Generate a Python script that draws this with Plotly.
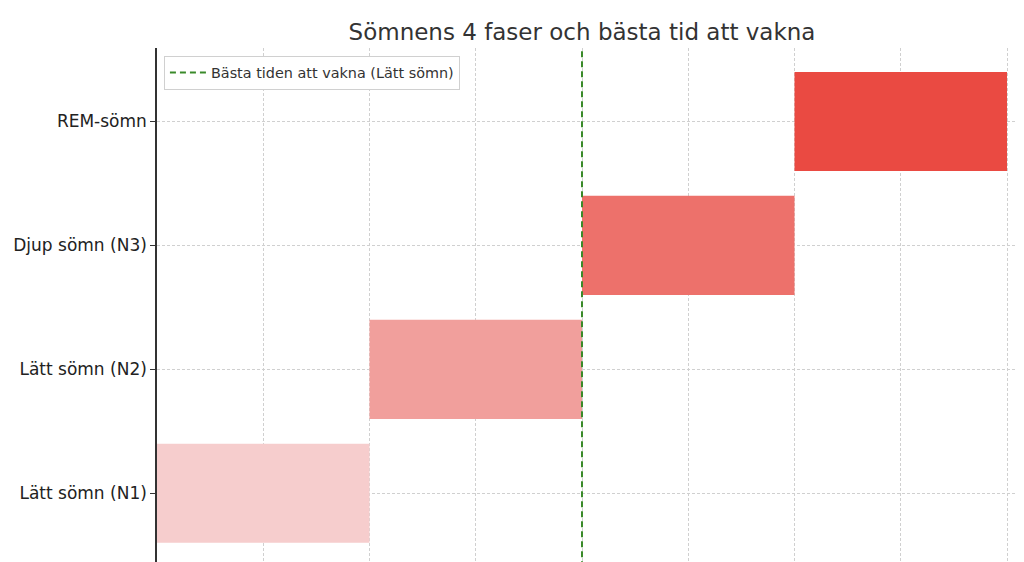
import plotly.graph_objects as go

# sleep phases, start and length (x units), bar colours
phases = ["Lätt sömn (N1)", "Lätt sömn (N2)", "Djup sömn (N3)", "REM-sömn"]
positions = [0, 1, 2, 3]
starts = [0, 2, 4, 6]
lengths = [2, 2, 2, 2]
colors = ["#f6cdcd", "#f19f9c", "#ed716b", "#ea4a42"]

wake_x = 4
wake_label = "Bästa tiden att vakna (Lätt sömn)"

fig = go.Figure()

fig.add_trace(go.Bar(
    y=positions, x=lengths, base=starts, orientation="h",
    marker=dict(color=colors, line=dict(width=0)),
    width=0.8, showlegend=False, hoverinfo="skip"))

fig.add_trace(go.Scatter(
    x=[wake_x, wake_x], y=[-1, 4], mode="lines",
    line=dict(color="#3a8a2a", width=2, dash="6px,4px"),
    name=wake_label))

# page body has an 8px margin, so the figure is 8px smaller than the window
fig.update_layout(
    width=1016, height=554,
    margin=dict(l=149, r=0, t=40, b=0),
    paper_bgcolor="white", plot_bgcolor="white",
    font=dict(family="DejaVu Sans", color="#333333"),
    title=dict(text="Sömnens 4 faser och bästa tid att vakna",
               x=574 / 1016, xanchor="center", y=1 - 24 / 554, yanchor="middle",
               font=dict(size=23, color="#333333")),
    showlegend=True,
    legend=dict(x=0.008, y=0.985, xanchor="left", yanchor="top",
                bgcolor="white", bordercolor="#d0d0d0", borderwidth=1,
                itemwidth=36,
                font=dict(size=14.4, color="#333333")),
)

fig.update_xaxes(range=[0, 8.16], dtick=1, showticklabels=False,
                 showgrid=True, gridcolor="#d0d0d0", griddash="3px,2px", gridwidth=1,
                 zeroline=False, showline=False, layer="above traces")
fig.update_yaxes(range=[-0.555, 3.593], tickvals=positions, ticktext=phases,
                 showgrid=True, gridcolor="#d0d0d0", griddash="3px,2px", gridwidth=1,
                 zeroline=False, showline=True, linecolor="#333333", linewidth=1.5,
                 ticks="outside", ticklen=5, tickcolor="#333333",
                 tickfont=dict(size=17, color="#222222"), layer="above traces")

fig.write_html("out.html")
